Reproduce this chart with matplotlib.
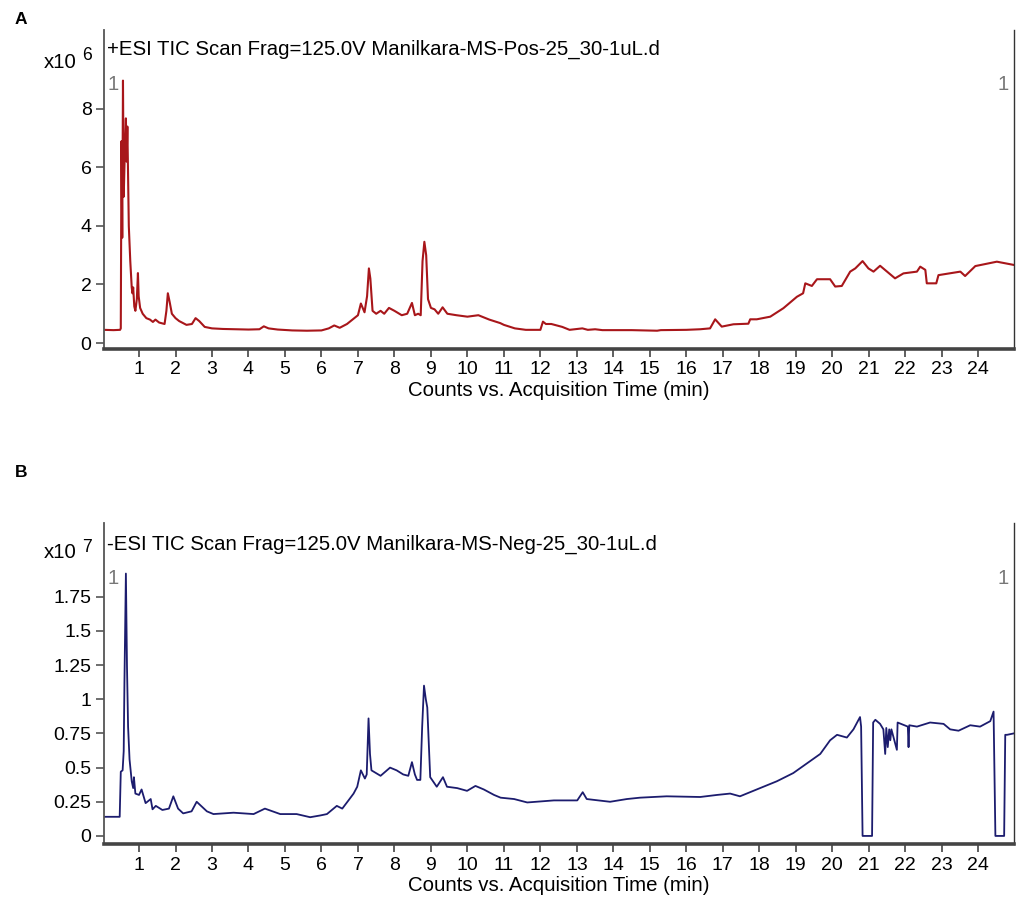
import matplotlib
matplotlib.use("Agg")
import matplotlib.pyplot as plt

plt.rcParams['font.family'] = ['Liberation Sans', 'DejaVu Sans']

# Panel A: +ESI TIC (counts x10^6)
t_pos = [0.04, 0.30, 0.48, 0.50, 0.52, 0.54, 0.56, 0.58, 0.61, 0.64, 0.66, 0.68, 0.72, 0.76,
         0.80, 0.82, 0.84, 0.87, 0.90, 0.94, 0.97, 0.99, 1.03, 1.10, 1.20, 1.30, 1.38, 1.45,
         1.55, 1.70, 1.75, 1.79, 1.84, 1.90, 2.00, 2.10, 2.30, 2.45, 2.55, 2.65, 2.80, 3.00,
         3.30, 3.60, 4.00, 4.30, 4.42, 4.55, 4.80, 5.20, 5.60, 6.00, 6.20, 6.35, 6.50, 6.70,
         6.90, 7.00, 7.08, 7.18, 7.25, 7.30, 7.34, 7.40, 7.50, 7.62, 7.72, 7.85, 8.00, 8.20,
         8.35, 8.48, 8.56, 8.65, 8.72, 8.77, 8.82, 8.87, 8.92, 9.00, 9.10, 9.20, 9.32, 9.45,
         9.70, 10.00, 10.30, 10.60, 10.90, 11.00, 11.30, 11.60, 12.00, 12.07, 12.15, 12.30,
         12.60, 12.80, 13.15, 13.30, 13.50, 13.70, 14.50, 15.20, 15.30, 16.00, 16.38, 16.65,
         16.79, 16.97, 17.29, 17.70, 17.75, 17.93, 18.30, 18.66, 19.03, 19.20, 19.26, 19.44,
         19.58, 19.94, 20.08, 20.26, 20.49, 20.63, 20.83, 20.99, 21.13, 21.31, 21.50, 21.72,
         21.95, 22.32, 22.41, 22.55, 22.59, 22.85, 22.91, 23.51, 23.64, 23.92, 24.51, 24.97]
i_pos = [0.45, 0.44, 0.45, 0.50, 6.90, 3.60, 8.97, 5.00, 6.50, 7.68, 6.20, 7.40, 4.00, 2.80,
         1.90, 1.70, 1.90, 1.25, 1.10, 1.50, 2.39, 1.60, 1.20, 1.00, 0.85, 0.80, 0.72, 0.80,
         0.70, 0.65, 1.10, 1.70, 1.40, 1.00, 0.85, 0.75, 0.62, 0.65, 0.85, 0.75, 0.55, 0.50,
         0.48, 0.47, 0.46, 0.47, 0.57, 0.50, 0.46, 0.43, 0.42, 0.43, 0.50, 0.60, 0.52, 0.65,
         0.85, 0.95, 1.35, 1.05, 1.60, 2.55, 2.20, 1.10, 1.00, 1.10, 1.00, 1.20, 1.10, 0.95,
         1.00, 1.37, 0.95, 1.00, 0.95, 2.80, 3.46, 3.00, 1.50, 1.20, 1.15, 1.00, 1.22, 1.00,
         0.95, 0.90, 0.95, 0.80, 0.68, 0.62, 0.50, 0.45, 0.45, 0.73, 0.65, 0.65,
         0.55, 0.45, 0.50, 0.45, 0.47, 0.44, 0.44, 0.42, 0.44, 0.45, 0.47, 0.50,
         0.81, 0.56, 0.64, 0.66, 0.81, 0.81, 0.90, 1.19, 1.58, 1.70, 2.04, 1.95,
         2.18, 2.18, 1.93, 1.95, 2.44, 2.55, 2.80, 2.55, 2.44, 2.64, 2.44, 2.21,
         2.38, 2.44, 2.61, 2.50, 2.04, 2.04, 2.32, 2.44, 2.29, 2.63, 2.78, 2.67]

# Panel B: -ESI TIC (counts x10^7)
t_neg = [0.04, 0.47, 0.50, 0.55, 0.58, 0.60, 0.64, 0.67, 0.70, 0.74, 0.80, 0.84, 0.86, 0.90,
         1.00, 1.07, 1.18, 1.32, 1.37, 1.46, 1.64, 1.82, 1.94, 2.07, 2.21, 2.44, 2.58, 2.86,
         3.04, 3.59, 4.14, 4.45, 4.87, 5.32, 5.69, 5.97, 6.15, 6.42, 6.57, 6.74, 6.88, 6.98,
         7.08, 7.19, 7.24, 7.29, 7.33, 7.37, 7.62, 7.88, 8.06, 8.24, 8.38, 8.48, 8.56, 8.62,
         8.71, 8.76, 8.81, 8.86, 8.90, 8.98, 9.16, 9.33, 9.44, 9.72, 9.99, 10.22, 10.45, 10.73,
         10.91, 11.28, 11.64, 12.37, 13.01, 13.16, 13.27, 13.91, 14.37, 14.73, 15.46, 16.38,
         16.84, 17.20, 17.47, 18.02, 18.48, 18.93, 19.30, 19.67, 19.94, 20.13, 20.40, 20.58,
         20.76, 20.79, 20.83, 21.09, 21.12, 21.18, 21.31, 21.40, 21.45, 21.48, 21.52, 21.56,
         21.59, 21.62, 21.77, 21.79, 22.07, 22.09, 22.11, 22.32, 22.68, 23.05, 23.23, 23.46,
         23.78, 24.05, 24.33, 24.42, 24.47, 24.71, 24.74, 24.79, 24.97]
i_neg = [0.14, 0.14, 0.47, 0.48, 0.62, 1.12, 1.92, 1.24, 0.80, 0.56, 0.40, 0.35, 0.43, 0.31,
         0.30, 0.34, 0.24, 0.27, 0.195, 0.22, 0.19, 0.20, 0.29, 0.20, 0.165, 0.18, 0.25, 0.18,
         0.16, 0.17, 0.16, 0.20, 0.16, 0.16, 0.137, 0.15, 0.16, 0.22, 0.20, 0.26, 0.31, 0.36,
         0.48, 0.42, 0.45, 0.86, 0.60, 0.48, 0.44, 0.50, 0.48, 0.45, 0.44, 0.54, 0.45, 0.41,
         0.41, 0.80, 1.10, 1.00, 0.94, 0.43, 0.36, 0.43, 0.36, 0.35, 0.33, 0.366, 0.34, 0.30,
         0.28, 0.27, 0.245, 0.26, 0.26, 0.32, 0.27, 0.25, 0.27, 0.28, 0.29, 0.285,
         0.30, 0.31, 0.29, 0.35, 0.40, 0.46, 0.53, 0.60, 0.70, 0.74, 0.72, 0.78,
         0.87, 0.80, 0.00, 0.00, 0.83, 0.85, 0.82, 0.78, 0.60, 0.79, 0.65, 0.78,
         0.70, 0.78, 0.63, 0.83, 0.80, 0.65, 0.81, 0.80, 0.83, 0.82, 0.78, 0.77,
         0.81, 0.80, 0.84, 0.91, 0.00, 0.00, 0.74, 0.74, 0.75]

x_ticks = list(range(1, 25))
y_ticks_pos = [0, 2, 4, 6, 8]
y_ticks_neg = [0, 0.25, 0.5, 0.75, 1, 1.25, 1.5, 1.75]
y_labels_neg = ['0', '0.25', '0.5', '0.75', '1', '1.25', '1.5', '1.75']

title_pos = "+ESI TIC Scan Frag=125.0V Manilkara-MS-Pos-25_30-1uL.d"
title_neg = "-ESI TIC Scan Frag=125.0V Manilkara-MS-Neg-25_30-1uL.d"
xlabel = "Counts vs. Acquisition Time (min)"

W, H = 1021, 905
fig = plt.figure(figsize=(W / 100, H / 100), dpi=100)

def fx(px):
    return px / W

def fy(py):
    return 1 - py / H

axA = fig.add_axes([fx(104), fy(349), fx(1014) - fx(104), fy(30) - fy(349)])
axB = fig.add_axes([fx(104), fy(844), fx(1014) - fx(104), fy(523) - fy(844)])

fs_tick = 14
fs_text = 14.7

def style(ax):
    ax.spines['top'].set_visible(False)
    ax.spines['right'].set_color('#333333')
    ax.spines['right'].set_linewidth(1.0)
    ax.spines['left'].set_color('#555555')
    ax.spines['left'].set_linewidth(1.3)
    ax.spines['bottom'].set_color('#444444')
    ax.spines['bottom'].set_linewidth(2.6)
    ax.set_xlim(0.04, 24.98)
    ax.set_xticks(x_ticks)
    ax.tick_params(axis='x', direction='out', length=6, width=1.2, color='#444444',
                   labelsize=fs_tick, pad=3)
    ax.tick_params(axis='y', direction='out', length=6, width=1.2, color='#555555',
                   labelsize=fs_tick, pad=3)
    ax.set_xlabel(xlabel, fontsize=fs_text, labelpad=1.5)

# Panel A
axA.plot(t_pos, i_pos, color='#a8161a', lw=1.5)
style(axA)
axA.set_ylim(-0.205, 10.70)
axA.set_yticks(y_ticks_pos)
axA.set_yticklabels([str(v) for v in y_ticks_pos])

# Panel B
axB.plot(t_neg, i_neg, color='#1c1c6e', lw=1.3)
style(axB)
axB.set_ylim(-0.059, 2.29)
axB.set_yticks(y_ticks_neg)
axB.set_yticklabels(y_labels_neg)

# Texts
fig.text(fx(15), fy(19), 'A', fontsize=12.5, fontweight='bold', ha='left', va='center')
fig.text(fx(15), fy(472), 'B', fontsize=12.5, fontweight='bold', ha='left', va='center')

for title, ty, exp, xy, ey in [(title_pos, 49, '6', 63, 55), (title_neg, 544, '7', 553, 548)]:
    fig.text(fx(107), fy(ty), title, fontsize=fs_text, ha='left', va='center')
    fig.text(fx(44), fy(xy), 'x10', fontsize=fs_text, ha='left', va='center')
    fig.text(fx(82), fy(ey), exp, fontsize=fs_text - 2, ha='left', va='center')

for ly in [84, 578]:
    fig.text(fx(113), fy(ly), '1', fontsize=fs_text, color='#777777', ha='center', va='center')
    fig.text(fx(1003), fy(ly), '1', fontsize=fs_text, color='#777777', ha='center', va='center')

fig.savefig('out.png', dpi=100)
